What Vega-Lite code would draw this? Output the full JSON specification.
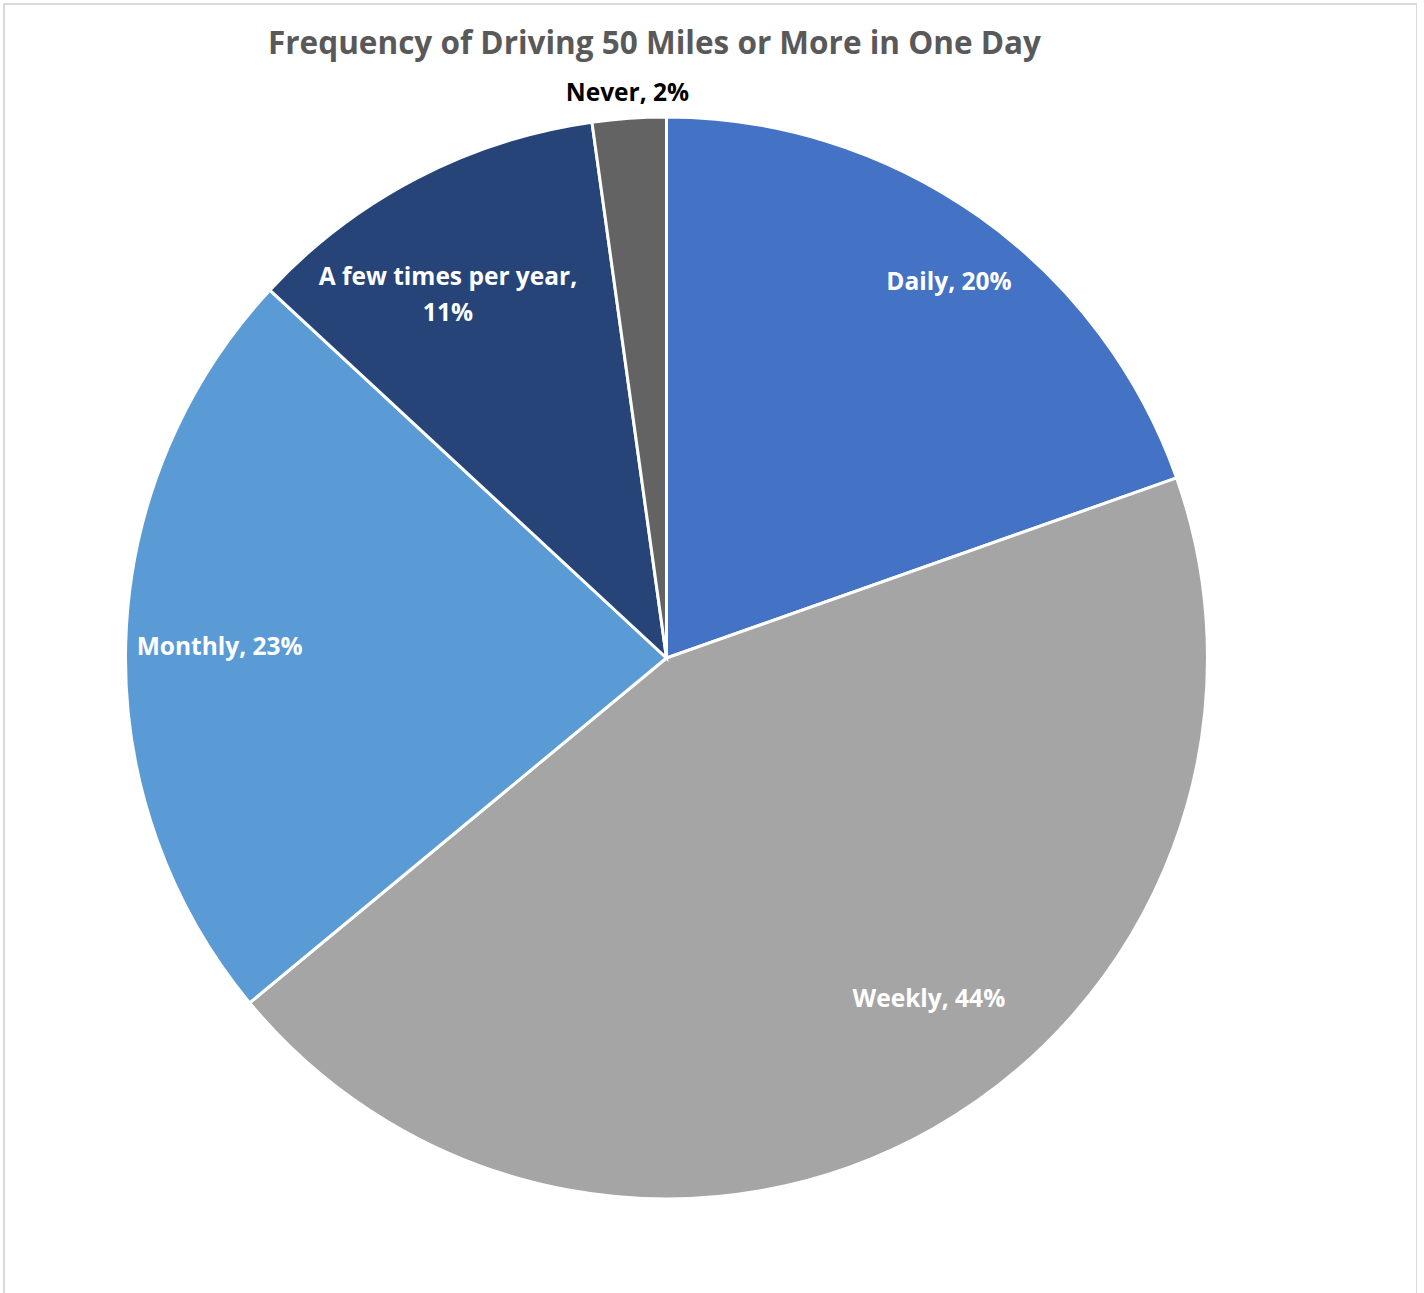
{
  "$schema": "https://vega.github.io/schema/vega-lite/v6.json",
  "autosize": "none",
  "padding": {"left": 4, "top": 4, "right": 0, "bottom": 0},
  "width": 1413,
  "height": 1300,
  "background": "white",
  "config": {"view": {"stroke": null}},
  "title": {
    "text": "Frequency of Driving 50 Miles or More in One Day",
    "font": "Open Sans",
    "fontSize": 31.5,
    "fontWeight": "bold",
    "color": "#595959",
    "anchor": "middle",
    "offset": -57,
    "dx": -56
  },
  "data": {
    "values": [
      {"cat": "Daily", "value": 19.6, "idx": 1, "label": "Daily, 20%"},
      {"cat": "Weekly", "value": 44.4, "idx": 2, "label": "Weekly, 44%"},
      {"cat": "Monthly", "value": 22.9, "idx": 3, "label": "Monthly, 23%"},
      {"cat": "A few times per year", "value": 10.9, "idx": 4, "label": "A few times per year,\n11%"},
      {"cat": "Never", "value": 2.2, "idx": 5, "label": "Never, 2%"}
    ]
  },
  "layer": [
    {
      "data": {"values": [{"frame": "chart area"}]},
      "mark": {"type": "rect", "fill": null, "stroke": "#d9d9d9", "strokeWidth": 2},
      "encoding": {
        "x": {"value": 0},
        "x2": {"value": "width"},
        "y": {"value": 0},
        "y2": {"value": "height"}
      }
    },
    {
      "mark": {"type": "arc", "outerRadius": 541, "stroke": "white", "strokeWidth": 3, "xOffset": -44, "yOffset": 4},
      "encoding": {
        "theta": {"field": "value", "type": "quantitative", "stack": true},
        "order": {"field": "idx", "type": "quantitative"},
        "color": {
          "field": "cat", "type": "nominal", "legend": null,
          "scale": {
            "domain": ["Daily", "Weekly", "Monthly", "A few times per year", "Never"],
            "range": ["#4472C4", "#A5A5A5", "#5B9BD5", "#264478", "#636363"]
          }
        }
      }
    },
    {
      "mark": {"type": "text", "radius": 470, "font": "Open Sans", "fontSize": 24.5, "fontWeight": "bold", "color": "white", "baseline": "middle", "align": "center", "xOffset": -44, "yOffset": 4, "dx": 11, "dy": 9},
      "encoding": {
        "theta": {"field": "value", "type": "quantitative", "stack": true},
        "order": {"field": "idx", "type": "quantitative"},
        "text": {"condition": {"test": "datum.cat === 'Daily'", "field": "label"}, "value": ""}
      }
    },
    {
      "mark": {"type": "text", "radius": 431, "font": "Open Sans", "fontSize": 24.5, "fontWeight": "bold", "color": "white", "baseline": "middle", "align": "center", "xOffset": -44, "yOffset": 4, "dx": 50, "dy": -33},
      "encoding": {
        "theta": {"field": "value", "type": "quantitative", "stack": true},
        "order": {"field": "idx", "type": "quantitative"},
        "text": {"condition": {"test": "datum.cat === 'Weekly'", "field": "label"}, "value": ""}
      }
    },
    {
      "mark": {"type": "text", "radius": 447, "font": "Open Sans", "fontSize": 24.5, "fontWeight": "bold", "color": "white", "baseline": "middle", "align": "center", "xOffset": -44, "yOffset": 4, "dy": 3},
      "encoding": {
        "theta": {"field": "value", "type": "quantitative", "stack": true},
        "order": {"field": "idx", "type": "quantitative"},
        "text": {"condition": {"test": "datum.cat === 'Monthly'", "field": "label"}, "value": ""}
      }
    },
    {
      "mark": {"type": "text", "radius": 423, "font": "Open Sans", "fontSize": 24.5, "fontWeight": "bold", "color": "white", "baseline": "middle", "align": "center", "lineBreak": "\n", "lineHeight": 36, "xOffset": -44, "yOffset": 4, "dx": -23, "dy": -5},
      "encoding": {
        "theta": {"field": "value", "type": "quantitative", "stack": true},
        "order": {"field": "idx", "type": "quantitative"},
        "text": {"condition": {"test": "datum.cat === 'A few times per year'", "field": "label"}, "value": ""}
      }
    },
    {
      "mark": {"type": "text", "radius": 565, "font": "Open Sans", "fontSize": 24.5, "fontWeight": "bold", "color": "black", "baseline": "middle", "align": "center", "xOffset": -44, "yOffset": 4},
      "encoding": {
        "theta": {"field": "value", "type": "quantitative", "stack": true},
        "order": {"field": "idx", "type": "quantitative"},
        "text": {"condition": {"test": "datum.cat === 'Never'", "field": "label"}, "value": ""}
      }
    }
  ]
}
